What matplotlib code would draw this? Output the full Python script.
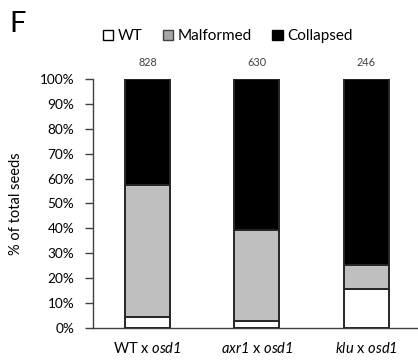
import matplotlib
matplotlib.use('Agg')
import matplotlib.pyplot as plt
import numpy as np
from matplotlib.patches import Patch

plt.rcParams['font.family'] = ['Lato', 'DejaVu Sans']
plt.rcParams['mathtext.fontset'] = 'custom'
# \mathrm is used for the italic gene names so digits come out italic too
plt.rcParams['mathtext.rm'] = 'Lato:italic'
plt.rcParams['mathtext.it'] = 'Lato:italic'

# data (percent of seeds)
crosses = ['WT x $\\mathrm{osd1}$', '$\\mathrm{axr1}$ x $\\mathrm{osd1}$', '$\\mathrm{klu}$ x $\\mathrm{osd1}$']
wt = [4.3, 2.9, 15.8]
malformed = [53.1, 36.5, 9.4]
collapsed = [42.6, 60.6, 74.8]
n_seeds = [828, 630, 246]

fig = plt.figure(figsize=(4.18, 3.63), dpi=100)
ax = fig.add_axes([0.2225, 0.0964, 0.7775, 0.686])

x = np.arange(len(crosses))
w = 0.41
edge = '#262626'
ax.bar(x, wt, w, color='white', edgecolor=edge, linewidth=1.4, label='WT')
ax.bar(x, malformed, w, bottom=wt, color='#BFBFBF', edgecolor=edge, linewidth=1.4, label='Malformed')
bottom2 = np.array(wt) + np.array(malformed)
ax.bar(x, collapsed, w, bottom=bottom2, color='black', edgecolor=edge, linewidth=1.4, label='Collapsed')

# sample sizes above bars
for xi, n in zip(x, n_seeds):
    ax.text(xi, 104.5, str(n), ha='center', va='bottom', fontsize=7.8, color='#404040')

ax.set_xlim(-0.5, 2.475)
ax.set_ylim(0, 100)
ax.set_yticks(np.arange(0, 101, 10))
ax.set_yticklabels(['%d%%' % v for v in range(0, 101, 10)], fontsize=9.8)
ax.set_xticks(x)
ax.set_xticklabels(crosses, fontsize=10.5)
ax.tick_params(axis='x', length=0, pad=9)
ax.tick_params(axis='y', length=5.5, width=1, color='#404040', pad=8)
for s in ['top', 'right']:
    ax.spines[s].set_visible(False)
for s in ['left', 'bottom']:
    ax.spines[s].set_color('#404040')
    ax.spines[s].set_linewidth(1)
ax.spines['bottom'].set_zorder(0)
ax.set_ylabel('% of total seeds', fontsize=10.5, labelpad=12)

handles = [Patch(facecolor='white', edgecolor='black', linewidth=1),
           Patch(facecolor='#A6A6A6', edgecolor='#404040', linewidth=1),
           Patch(facecolor='black', edgecolor='black', linewidth=1)]
fig.legend(handles, ['WT', 'Malformed', 'Collapsed'], loc='center', bbox_to_anchor=(0.545, 0.9),
           ncol=3, frameon=False, fontsize=11, handlelength=0.7, handleheight=0.7,
           handletextpad=0.3, columnspacing=1.3, borderpad=0)

fig.text(0.022, 0.97, 'F', fontsize=21, va='top', ha='left')

fig.savefig('out.png', dpi=100)
